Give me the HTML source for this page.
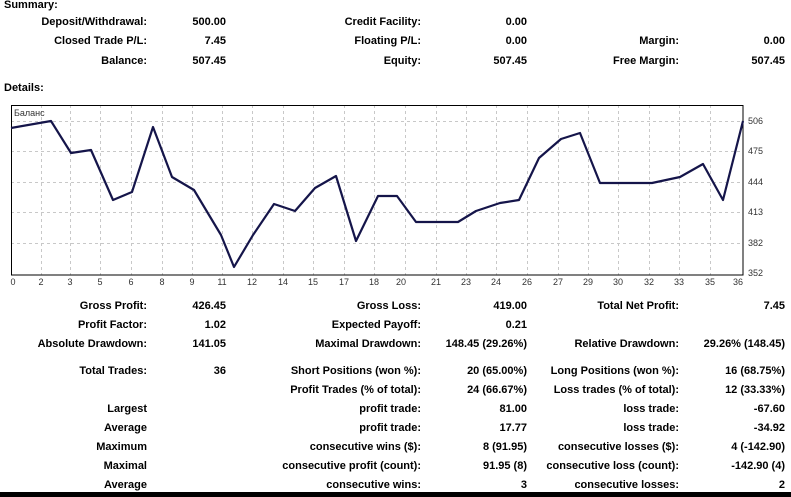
<!DOCTYPE html>
<html><head><meta charset="utf-8"><style>
body{margin:0;width:791px;height:497px;background:#fff;position:relative;overflow:hidden;font-family:"Liberation Sans",sans-serif;font-size:11px;font-weight:bold;color:#000}
.t{position:absolute;white-space:nowrap;line-height:13px}
.r{text-align:right}
</style></head><body>
<div class="t" style="left:4px;top:-1px">Summary:</div>
<div class="t" style="left:4px;top:82px">Details:</div>
<div id="c"></div>
<svg style="position:absolute;left:0;top:0" width="791" height="497">
<g stroke="#c8c8c8" stroke-dasharray="3,3" stroke-width="1">
<line x1="11" x2="743" y1="121.5" y2="121.5"/><line x1="11" x2="743" y1="151.5" y2="151.5"/><line x1="11" x2="743" y1="182.5" y2="182.5"/><line x1="11" x2="743" y1="212.5" y2="212.5"/><line x1="11" x2="743" y1="243.5" y2="243.5"/>
<line x1="41.5" x2="41.5" y1="105" y2="275"/><line x1="70.5" x2="70.5" y1="105" y2="275"/><line x1="100.5" x2="100.5" y1="105" y2="275"/><line x1="131.5" x2="131.5" y1="105" y2="275"/><line x1="162.5" x2="162.5" y1="105" y2="275"/><line x1="192.5" x2="192.5" y1="105" y2="275"/><line x1="222.5" x2="222.5" y1="105" y2="275"/><line x1="252.5" x2="252.5" y1="105" y2="275"/><line x1="283.5" x2="283.5" y1="105" y2="275"/><line x1="313.5" x2="313.5" y1="105" y2="275"/><line x1="344.5" x2="344.5" y1="105" y2="275"/><line x1="374.5" x2="374.5" y1="105" y2="275"/><line x1="405.5" x2="405.5" y1="105" y2="275"/><line x1="436.5" x2="436.5" y1="105" y2="275"/><line x1="466.5" x2="466.5" y1="105" y2="275"/><line x1="496.5" x2="496.5" y1="105" y2="275"/><line x1="527.5" x2="527.5" y1="105" y2="275"/><line x1="558.5" x2="558.5" y1="105" y2="275"/><line x1="588.5" x2="588.5" y1="105" y2="275"/><line x1="618.5" x2="618.5" y1="105" y2="275"/><line x1="649.5" x2="649.5" y1="105" y2="275"/><line x1="679.5" x2="679.5" y1="105" y2="275"/><line x1="710.5" x2="710.5" y1="105" y2="275"/>
</g>
<rect x="11.5" y="105.5" width="731.5" height="169.5" fill="none" stroke="#000" stroke-width="1"/>
<polyline fill="none" stroke="#15154a" stroke-width="2.2" stroke-linejoin="round" points="11,128 51,121 71,153 91,150 113,200 132,192 153,127 172,177 194,190 221,235 234,267 253,235 274,204 295,211 315,188 336,176 356,241 378,196 397,196 416,222 458,222 476,211 500,203 519,200 539,158 561,139 580,133 600,183 652,183 680,177 703,164 723,200 743,121"/>
<g font-family="Liberation Sans,sans-serif" font-size="9" fill="#333" font-weight="normal">
<text x="14" y="116">Баланс</text>
<text x="748" y="124">506</text><text x="748" y="154">475</text><text x="748" y="185">444</text><text x="748" y="215">413</text><text x="748" y="246">382</text><text x="748" y="276">352</text>
<g text-anchor="middle">
<text x="13" y="285">0</text><text x="41" y="285">2</text><text x="70" y="285">3</text><text x="100" y="285">5</text><text x="131" y="285">6</text><text x="162" y="285">8</text><text x="192" y="285">9</text><text x="222" y="285">11</text><text x="252" y="285">12</text><text x="283" y="285">14</text><text x="313" y="285">15</text><text x="344" y="285">17</text><text x="374" y="285">18</text><text x="401" y="285">20</text><text x="436" y="285">21</text><text x="466" y="285">23</text><text x="496" y="285">24</text><text x="527" y="285">26</text><text x="558" y="285">27</text><text x="588" y="285">29</text><text x="618" y="285">30</text><text x="649" y="285">32</text><text x="679" y="285">33</text><text x="710" y="285">35</text><text x="738" y="285">36</text>
</g></g>
<rect x="0" y="492" width="791" height="5" fill="#000"/>
</svg>
<script>
var rows=[
[16,"Deposit/Withdrawal:","500.00","Credit Facility:","0.00","",""],
[35,"Closed Trade P/L:","7.45","Floating P/L:","0.00","Margin:","0.00"],
[55,"Balance:","507.45","Equity:","507.45","Free Margin:","507.45"],
[300,"Gross Profit:","426.45","Gross Loss:","419.00","Total Net Profit:","7.45"],
[319,"Profit Factor:","1.02","Expected Payoff:","0.21","",""],
[338,"Absolute Drawdown:","141.05","Maximal Drawdown:","148.45 (29.26%)","Relative Drawdown:","29.26% (148.45)"],
[365,"Total Trades:","36","Short Positions (won %):","20 (65.00%)","Long Positions (won %):","16 (68.75%)"],
[384,"","","Profit Trades (% of total):","24 (66.67%)","Loss trades (% of total):","12 (33.33%)"],
[403,"Largest","","profit trade:","81.00","loss trade:","-67.60"],
[422,"Average","","profit trade:","17.77","loss trade:","-34.92"],
[441,"Maximum","","consecutive wins ($):","8 (91.95)","consecutive losses ($):","4 (-142.90)"],
[460,"Maximal","","consecutive profit (count):","91.95 (8)","consecutive loss (count):","-142.90 (4)"],
[479,"Average","","consecutive wins:","3","consecutive losses:","2"]];
var R=[147,226,421,527,679,785],h="";
rows.forEach(function(r){for(var i=0;i<6;i++){if(r[i+1])h+='<div class="t r" style="right:'+(791-R[i])+'px;top:'+r[0]+'px">'+r[i+1]+'</div>';}});
document.getElementById("c").innerHTML=h;
</script>
</body></html>
